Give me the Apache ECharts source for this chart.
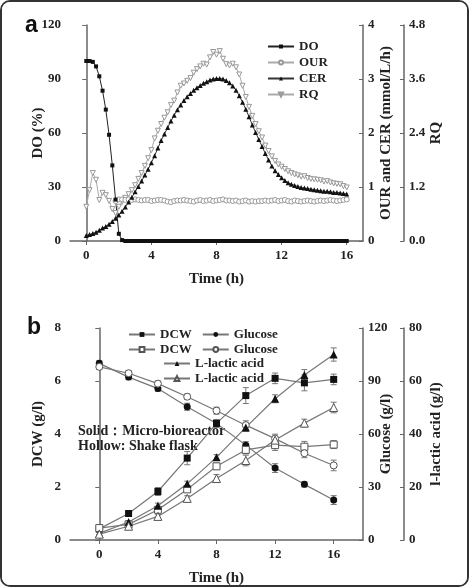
<!DOCTYPE html>
<html>
<head>
<meta charset="utf-8">
<script src="https://cdn.jsdelivr.net/npm/echarts@6/dist/echarts.min.js"></script>
<style>
  html, body { margin: 0; padding: 0; background: #fff; }
  .frame {
    width: 469px; height: 587px; box-sizing: border-box;
    border: 2px solid #333; border-radius: 10px; overflow: hidden; background: #fff;
  }
  #chart { margin-left: -2px; margin-top: -2px; }
</style>
</head>
<body>
<div class="frame"><div id="chart" style="width:469px;height:587px;"></div></div>
<script>
// ---- panel a : time course, sampled every 0.2 h ----
var timeA = [
  0, 0.2, 0.4, 0.6, 0.8, 1, 1.2, 1.4, 1.6, 1.8,
  2, 2.2, 2.4, 2.6, 2.8, 3, 3.2, 3.4, 3.6, 3.8,
  4, 4.2, 4.4, 4.6, 4.8, 5, 5.2, 5.4, 5.6, 5.8,
  6, 6.2, 6.4, 6.6, 6.8, 7, 7.2, 7.4, 7.6, 7.8,
  8, 8.2, 8.4, 8.6, 8.8, 9, 9.2, 9.4, 9.6, 9.8,
  10, 10.2, 10.4, 10.6, 10.8, 11, 11.2, 11.4, 11.6, 11.8,
  12, 12.2, 12.4, 12.6, 12.8, 13, 13.2, 13.4, 13.6, 13.8,
  14, 14.2, 14.4, 14.6, 14.8, 15, 15.2, 15.4, 15.6, 15.8,
  16
];
var doVal = [
  100, 100, 99.5, 97, 91.5, 83.5, 73, 59, 42, 23,
  4, 0.5, 0, 0, 0, 0, 0, 0, 0, 0,
  0, 0, 0, 0, 0, 0, 0, 0, 0, 0,
  0, 0, 0, 0, 0, 0, 0, 0, 0, 0,
  0, 0, 0, 0, 0, 0, 0, 0, 0, 0,
  0, 0, 0, 0, 0, 0, 0, 0, 0, 0,
  0, 0, 0, 0, 0, 0, 0, 0, 0, 0,
  0, 0, 0, 0, 0, 0, 0, 0, 0, 0,
  0
];
var ourVal = [
  null, null, null, null, null, null, null, null, null, 0.74,
  0.77, 0.77, 0.76, 0.77, 0.76, 0.77, 0.76, 0.75, 0.76, 0.76,
  0.74, 0.75, 0.76, 0.76, 0.75, 0.73, 0.72, 0.74, 0.75, 0.75,
  0.76, 0.75, 0.74, 0.73, 0.75, 0.76, 0.74, 0.75, 0.76, 0.74,
  0.75, 0.76, 0.77, 0.75, 0.75, 0.74, 0.75, 0.73, 0.74, 0.75,
  0.73, 0.74, 0.73, 0.74, 0.74, 0.75, 0.74, 0.75, 0.76, 0.74,
  0.75, 0.76, 0.74, 0.73, 0.75, 0.74, 0.73, 0.74, 0.75, 0.74,
  0.73, 0.74, 0.75, 0.74, 0.75, 0.76, 0.75, 0.74, 0.75, 0.76,
  0.77
];
var cerVal = [
  0.10, 0.12, 0.14, 0.16, 0.20, 0.24, 0.27, 0.31, 0.36, 0.42,
  0.48, 0.55, 0.63, 0.72, 0.81, 0.91, 1.01, 1.11, 1.22, 1.33,
  1.45, 1.58, 1.72, 1.86, 1.98, 2.10, 2.22, 2.33, 2.43, 2.52,
  2.60, 2.67, 2.73, 2.79, 2.84, 2.88, 2.92, 2.95, 2.98, 3.00,
  3.01, 3.01, 3.00, 2.97, 2.93, 2.87, 2.79, 2.69, 2.57, 2.44,
  2.30, 2.15, 2.01, 1.88, 1.75, 1.62, 1.50, 1.39, 1.30, 1.23,
  1.17, 1.12, 1.08, 1.05, 1.03, 1.01, 0.99, 0.98, 0.97, 0.96,
  0.95, 0.94, 0.93, 0.92, 0.92, 0.91, 0.90, 0.90, 0.89, 0.88,
  0.87
];
var rqVal = [
  0.76, 1.13, 1.51, 1.36, 0.91, 1.07, 1.02, 0.89, 0.71, 0.62,
  0.76, 0.87, 0.96, 1.04, 1.13, 1.24, 1.38, 1.51, 1.67, 1.84,
  2.02, 2.28, 2.45, 2.60, 2.74, 2.86, 3.02, 3.12, 3.30, 3.45,
  3.50, 3.56, 3.62, 3.74, 3.82, 3.88, 3.94, 3.92, 4.08, 4.20,
  4.14, 4.22, 4.05, 3.93, 3.90, 3.94, 3.86, 3.70, 3.45, 3.20,
  2.98, 2.78, 2.60, 2.44, 2.30, 2.12, 2.00, 1.88, 1.78, 1.70,
  1.65, 1.60, 1.55, 1.51, 1.48, 1.46, 1.43, 1.44, 1.40, 1.38,
  1.37, 1.36, 1.35, 1.32, 1.33, 1.30, 1.28, 1.27, 1.26, 1.22,
  1.19
];

// ---- panel b : every 2 h ----
var timeB = [0, 2, 4, 6, 8, 10, 12, 14, 16];
var dcwSolid = [0.42, 1.0, 1.83, 3.09, 4.4, 5.45, 6.1, 5.93, 6.06];
var dcwHollow = [0.45, 0.59, 1.14, 1.91, 2.78, 3.4, 3.58, 3.52, 3.6];
var gluSolid = [100, 92.2, 85.7, 75.4, 66, 53.7, 40.7, 31.5, 22.6];
var gluHollow = [98, 94.4, 88.5, 81.1, 73.2, 65, 57.4, 49.1, 42.2];
var lacSolid = [2.5, 6.8, 12.9, 21.2, 31.2, 42.5, 53.3, 62.3, 70];
var lacHollow = [2.2, 5.2, 8.9, 15.7, 23.2, 30, 37.7, 44.1, 50];
// error bar half widths
var dcwSolidErr = [0.05, 0.05, 0.15, 0.25, 0.15, 0.3, 0.2, 0.3, 0.2];
var dcwHollowErr = [0.05, 0.05, 0.08, 0.1, 0.12, 0.15, 0.2, 0.2, 0.15];
var gluSolidErr = [1.5, 1.5, 1.5, 2, 2, 2, 2.5, 1.5, 2.5];
var gluHollowErr = [1.5, 1.5, 1.5, 1.5, 2, 2.5, 2.5, 2.5, 3];
var lacSolidErr = [0.5, 0.5, 1, 1, 1, 1.5, 1.5, 2, 2.5];
var lacHollowErr = [0.5, 0.5, 0.8, 1, 1.5, 2, 1.5, 1.5, 2];

var xTicks = [0, 4, 8, 12, 16];

var serif = "Liberation Serif";
var txt = { fontFamily: serif, fontWeight: "bold", fontSize: 13, color: "#222" };
var axisCol = "#666";

function pairs(xs, ys) {
  return xs.map(function (x, i) { return [x, ys[i]]; });
}
function errData(xs, ys, es) {
  return xs.map(function (x, i) { return [x, ys[i] - es[i], ys[i] + es[i]]; });
}
function errBar(params, api) {
  var x = api.value(0);
  var lo = api.coord([x, api.value(1)]);
  var hi = api.coord([x, api.value(2)]);
  var w = 3;
  var st = { stroke: "#777", lineWidth: 1 };
  return {
    type: "group",
    children: [
      { type: "line", shape: { x1: lo[0], y1: lo[1], x2: hi[0], y2: hi[1] }, style: st },
      { type: "line", shape: { x1: lo[0] - w, y1: lo[1], x2: lo[0] + w, y2: lo[1] }, style: st },
      { type: "line", shape: { x1: hi[0] - w, y1: hi[1], x2: hi[0] + w, y2: hi[1] }, style: st },
    ],
  };
}

function xAxisDef(grid, min, max) {
  return {
    gridIndex: grid,
    type: "value",
    min: min,
    max: max,
    name: "Time (h)",
    nameLocation: "middle",
    nameGap: 31,
    nameTextStyle: { fontFamily: serif, fontWeight: "bold", fontSize: 15, color: "#222" },
    axisLine: { lineStyle: { color: axisCol, width: 1.5 } },
    axisTick: { customValues: xTicks, length: 4, lineStyle: { color: axisCol } },
    axisLabel: Object.assign({ customValues: xTicks, margin: 8 }, txt),
    splitLine: { show: false },
  };
}
function yAxisDef(grid, pos, offset, max, interval, name, gap, fmt) {
  return {
    gridIndex: grid,
    type: "value",
    position: pos,
    offset: offset,
    min: 0,
    max: max,
    interval: interval,
    name: name,
    nameLocation: "middle",
    nameRotate: 90,
    nameGap: gap,
    nameMoveOverlap: false,
    nameTextStyle: { fontFamily: serif, fontWeight: "bold", fontSize: 15, color: "#222" },
    axisLine: { show: true, lineStyle: { color: axisCol, width: 1.5 } },
    axisTick: { show: true, inside: pos === "right", length: 4, lineStyle: { color: axisCol } },
    axisLabel: Object.assign({ margin: pos === "right" ? 5 : 9, formatter: fmt }, txt),
    splitLine: { show: false },
  };
}

var chart = echarts.init(document.getElementById("chart"));
var legendBase = {
  orient: "horizontal",
  padding: 0,
  itemWidth: 26,
  itemHeight: 6,
  textStyle: txt,
  formatter: function (n) { return n.trim(); },
  selectedMode: false,
};

chart.setOption({
  animation: false,
  backgroundColor: "#fff",
  grid: [
    { left: 70, right: 106, top: 25, bottom: 346 },
    { left: 70, right: 106, top: 328, bottom: 42 },
  ],
  xAxis: [xAxisDef(0, -1, 17), xAxisDef(1, -2, 18)],
  yAxis: [
    yAxisDef(0, "left", 0, 120, 30, "DO (%)", 24),
    yAxisDef(0, "right", 0, 4, 1, "OUR and CER (mmol/L/h)", 16),
    yAxisDef(0, "right", 41, 4.8, 1.2, "RQ", 25, function (v) { return v.toFixed(1); }),
    yAxisDef(1, "left", 0, 8, 2, "DCW (g/l)", 24),
    yAxisDef(1, "right", 0, 120, 30, "Glucose (g/l)", 16),
    yAxisDef(1, "right", 41, 80, 20, "l-lactic acid (g/l)", 25),
  ],
  legend: [
    Object.assign({}, legendBase, {
      orient: "vertical", left: 267, top: 40, itemGap: 3, itemHeight: 5,
      data: ["DO", "OUR", "CER", "RQ"],
    }),
    Object.assign({}, legendBase, { left: 128, top: 328, itemGap: 10, data: ["DCW", "Glucose"] }),
    Object.assign({}, legendBase, { left: 128, top: 343, itemGap: 10, data: ["DCW ", "Glucose "] }),
    Object.assign({}, legendBase, { left: 163, top: 357, data: ["L-lactic acid"] }),
    Object.assign({}, legendBase, { left: 163, top: 372, data: ["L-lactic acid "] }),
  ],
  graphic: [
    { type: "text", left: 25, top: 14, style: { text: "a", font: "bold 23px 'Liberation Sans'", fill: "#111" } },
    { type: "text", left: 27, top: 316, style: { text: "b", font: "bold 23px 'Liberation Sans'", fill: "#111" } },
    { type: "text", left: 78, top: 424, style: { text: "Solid：Micro-bioreactor", font: "bold 14px 'Liberation Serif'", fill: "#222" } },
    { type: "text", left: 78, top: 439, style: { text: "Hollow: Shake flask", font: "bold 14px 'Liberation Serif'", fill: "#222" } },
  ],
  series: [
    // panel a
    {
      name: "RQ", type: "line", xAxisIndex: 0, yAxisIndex: 2, data: pairs(timeA, rqVal),
      symbol: "triangle", symbolRotate: 180, symbolSize: 5,
      lineStyle: { color: "#aaa", width: 1 },
      itemStyle: { color: "#fff", borderColor: "#999", borderWidth: 1 },
    },
    {
      name: "OUR", type: "line", xAxisIndex: 0, yAxisIndex: 1, data: pairs(timeA, ourVal),
      symbol: "circle", symbolSize: 5,
      lineStyle: { color: "#aaa", width: 1 },
      itemStyle: { color: "#fff", borderColor: "#999", borderWidth: 1 },
    },
    {
      name: "CER", type: "line", xAxisIndex: 0, yAxisIndex: 1, data: pairs(timeA, cerVal),
      symbol: "triangle", symbolSize: 5,
      lineStyle: { color: "#333", width: 1 },
      itemStyle: { color: "#111" },
    },
    {
      name: "DO", type: "line", xAxisIndex: 0, yAxisIndex: 0, data: pairs(timeA, doVal),
      symbol: "rect", symbolSize: 4,
      lineStyle: { color: "#222", width: 1 },
      itemStyle: { color: "#111" },
    },
    // panel b error bars
    { name: "e1", type: "custom", xAxisIndex: 1, yAxisIndex: 3, renderItem: errBar, encode: { x: 0, y: [1, 2] }, data: errData(timeB, dcwSolid, dcwSolidErr), z: 1 },
    { name: "e2", type: "custom", xAxisIndex: 1, yAxisIndex: 3, renderItem: errBar, encode: { x: 0, y: [1, 2] }, data: errData(timeB, dcwHollow, dcwHollowErr), z: 1 },
    { name: "e3", type: "custom", xAxisIndex: 1, yAxisIndex: 4, renderItem: errBar, encode: { x: 0, y: [1, 2] }, data: errData(timeB, gluSolid, gluSolidErr), z: 1 },
    { name: "e4", type: "custom", xAxisIndex: 1, yAxisIndex: 4, renderItem: errBar, encode: { x: 0, y: [1, 2] }, data: errData(timeB, gluHollow, gluHollowErr), z: 1 },
    { name: "e5", type: "custom", xAxisIndex: 1, yAxisIndex: 5, renderItem: errBar, encode: { x: 0, y: [1, 2] }, data: errData(timeB, lacSolid, lacSolidErr), z: 1 },
    { name: "e6", type: "custom", xAxisIndex: 1, yAxisIndex: 5, renderItem: errBar, encode: { x: 0, y: [1, 2] }, data: errData(timeB, lacHollow, lacHollowErr), z: 1 },
    // panel b lines
    {
      name: "DCW", type: "line", xAxisIndex: 1, yAxisIndex: 3, data: pairs(timeB, dcwSolid),
      symbol: "rect", symbolSize: 7, lineStyle: { color: "#777", width: 1.2 }, itemStyle: { color: "#111" },
    },
    {
      name: "Glucose", type: "line", xAxisIndex: 1, yAxisIndex: 4, data: pairs(timeB, gluSolid),
      symbol: "circle", symbolSize: 7, lineStyle: { color: "#777", width: 1.2 }, itemStyle: { color: "#111" },
    },
    {
      name: "DCW ", type: "line", xAxisIndex: 1, yAxisIndex: 3, data: pairs(timeB, dcwHollow),
      symbol: "rect", symbolSize: 7, lineStyle: { color: "#777", width: 1.2 },
      itemStyle: { color: "#fff", borderColor: "#555", borderWidth: 1 },
    },
    {
      name: "Glucose ", type: "line", xAxisIndex: 1, yAxisIndex: 4, data: pairs(timeB, gluHollow),
      symbol: "circle", symbolSize: 7, lineStyle: { color: "#777", width: 1.2 },
      itemStyle: { color: "#fff", borderColor: "#555", borderWidth: 1 },
    },
    {
      name: "L-lactic acid", type: "line", xAxisIndex: 1, yAxisIndex: 5, data: pairs(timeB, lacSolid),
      symbol: "triangle", symbolSize: 8, lineStyle: { color: "#777", width: 1.2 }, itemStyle: { color: "#111" },
    },
    {
      name: "L-lactic acid ", type: "line", xAxisIndex: 1, yAxisIndex: 5, data: pairs(timeB, lacHollow),
      symbol: "triangle", symbolSize: 8, lineStyle: { color: "#777", width: 1.2 },
      itemStyle: { color: "#fff", borderColor: "#555", borderWidth: 1 },
    },
  ],
});
</script>
</body>
</html>
